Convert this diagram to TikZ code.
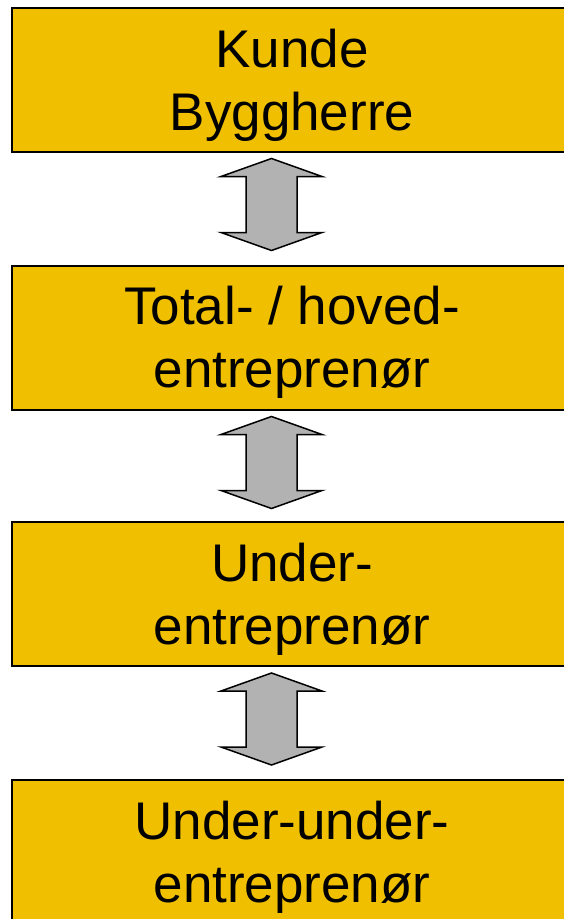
\documentclass[tikz,border=0pt]{standalone}
\usepackage{fontspec}
\setmainfont{Liberation Sans}
\usetikzlibrary{calc}
\definecolor{boxyellow}{RGB}{240,192,0}
\definecolor{arrowgray}{RGB}{178,178,178}
\begin{document}
\begin{tikzpicture}[x=1pt,y=-1pt,
  stagebox/.style={draw=black, line width=2pt, fill=boxyellow, rectangle,
    minimum width=700pt, minimum height=144pt, inner sep=0pt},
  stagetext/.style={anchor=north, align=center, inner sep=0pt,
    font=\fontsize{53}{63}\selectfont},
  blockarrow/.style={draw=black, line width=1.5pt, fill=arrowgray, line join=miter}]
\useasboundingbox (0,0) rectangle (563,919);

\node[stagebox] (b1) at (362,79.5) {};
\node[stagebox] (b2) at (362,337.5) {};
\node[stagebox] (b3) at (362,593.5) {};
\node[stagebox] (b4) at (362,851.5) {};

\node[stagetext] (t1) at ($(b1.north)+(-70,22.5)$) {Kunde\\Byggherre};
\node[stagetext] (t2) at ($(b2.north)+(-70,21)$) {Total- / hoved-\\entreprenør};
\node[stagetext] (t3) at ($(b3.north)+(-70,22)$) {Under-\\entreprenør};
\node[stagetext] (t4) at ($(b4.north)+(-70,22.5)$) {Under-under-\\entreprenør};

\coordinate (a1) at ($(b1.south)+(-90.5,6)$);
\coordinate (a2) at ($(b2.south)+(-90.5,6)$);
\coordinate (a3) at ($(b3.south)+(-90.5,6.5)$);

\foreach \a in {a1,a2,a3}{
  \draw[blockarrow] (\a) -- ++(50.5,18) -- ++(-25,0) -- ++(0,56) -- ++(25,0)
    -- ++(-50.5,18) -- ++(-50.5,-18) -- ++(25,0) -- ++(0,-56) -- ++(-25,0) -- cycle;
}
\end{tikzpicture}
\end{document}
